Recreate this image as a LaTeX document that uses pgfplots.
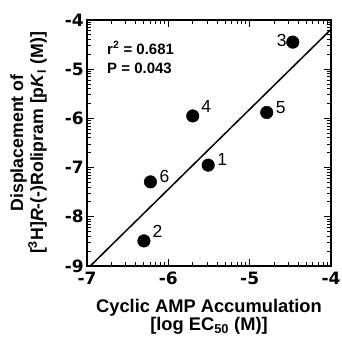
\documentclass[border=0pt]{standalone}
\usepackage{pgfplots}
\pgfplotsset{compat=1.18}
\usepackage{fontspec}
\setmainfont{Liberation Sans}
\newfontfamily\tickfont{DejaVu Sans}
\begin{document}
\begin{tikzpicture}
\path[use as bounding box] (-87pt,-73pt) rectangle (255pt,266pt);
\begin{axis}[
  at={(0,0)}, anchor=south west,
  scale only axis, width=244pt, height=246pt,
  xmin=-7, xmax=-4, ymin=-9, ymax=-4,
  xtick={-7,-6,-5,-4}, ytick={-9,-8,-7,-6,-5,-4},
  minor xtick={-6.699,-6.523,-6.398,-6.301,-6.222,-6.155,-6.097,-6.046,
               -5.699,-5.523,-5.398,-5.301,-5.222,-5.155,-5.097,-5.046,
               -4.699,-4.523,-4.398,-4.301,-4.222,-4.155,-4.097,-4.046},
  minor ytick={-8.699,-8.523,-8.398,-8.301,-8.222,-8.155,-8.097,-8.046,
               -7.699,-7.523,-7.398,-7.301,-7.222,-7.155,-7.097,-7.046,
               -6.699,-6.523,-6.398,-6.301,-6.222,-6.155,-6.097,-6.046,
               -5.699,-5.523,-5.398,-5.301,-5.222,-5.155,-5.097,-5.046,
               -4.699,-4.523,-4.398,-4.301,-4.222,-4.155,-4.097,-4.046},
  tick align=inside, major tick length=7pt, minor tick length=4pt,
  every tick/.style={black, line width=1pt},
  axis line style={line width=1.8pt},
  /pgf/number format/assume math mode=true,
  ticklabel style={font=\tickfont\bfseries\fontsize{17}{17}\selectfont, inner sep=0pt},
  xticklabel style={yshift=-6pt},
  yticklabel style={xshift=-3pt},
  xlabel={Cyclic AMP Accumulation\\{}[log EC$_{\mathbf{50}}$ (M)]},
  xlabel style={at={(axis description cs:0.5,-0.134)}, anchor=north, inner sep=0pt,
    align=center, font=\bfseries\fontsize{18.3}{18.5}\selectfont},
  ylabel={Displacement of\\{}[$^{\mathbf{3}}$H]\textit{R}-(-)Rolipram [p\textit{K}$_{\mathbf{I}}$ (M)]},
  ylabel style={at={(axis description cs:-0.315,0.5)}, anchor=north, inner sep=0pt,
    align=center, font=\bfseries\fontsize{17.7}{20}\selectfont},
  clip=false,
]
\addplot[black, line width=1.5pt] coordinates {(-6.96,-9) (-4,-4.19)};
\addplot[only marks, mark=*, mark size=6.3pt, black,
  nodes near coords, point meta=explicit symbolic,
  every node near coord/.style={font=\fontsize{17.5}{17.5}\selectfont, inner sep=0pt, anchor=south west, xshift=9pt, yshift=-1pt}]
  coordinates {
  (-5.51,-6.95) [1]
  (-4.79,-5.88) [5]
  (-6.22,-7.29) [6]
};
\addplot[only marks, mark=*, mark size=6.3pt, black,
  nodes near coords, point meta=explicit symbolic,
  every node near coord/.style={font=\fontsize{17.5}{17.5}\selectfont, inner sep=0pt, anchor=south west, xshift=8.5pt, yshift=3pt}]
  coordinates {
  (-6.30,-8.49) [2]
  (-5.70,-5.95) [4]
};
\addplot[only marks, mark=*, mark size=6.3pt, black,
  nodes near coords, point meta=explicit symbolic,
  every node near coord/.style={font=\fontsize{17.5}{17.5}\selectfont, inner sep=0pt, anchor=south east, xshift=-6pt, yshift=-5pt}]
  coordinates {(-4.47,-4.45) [3]};
\node[anchor=north west, inner sep=0pt, align=left, font=\bfseries\fontsize{15}{19}\selectfont] at (rel axis cs:0.082,0.913) {r$^{\mathbf{2}}$ = 0.681\\P = 0.043};
\end{axis}
\end{tikzpicture}
\end{document}
